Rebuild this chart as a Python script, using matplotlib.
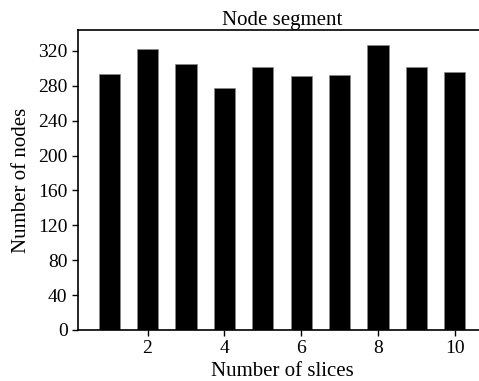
import matplotlib
matplotlib.use("Agg")
import matplotlib.pyplot as plt

# values
slices = [1, 2, 3, 4, 5, 6, 7, 8, 9, 10]
node_counts = [293, 322, 305, 277, 302, 291, 292, 327, 302, 296]
x_ticks = [2, 4, 6, 8, 10]
y_ticks = [0, 40, 80, 120, 160, 200, 240, 280, 320]

plt.rcParams["font.family"] = ["Liberation Serif", "DejaVu Serif"]

fig = plt.figure(figsize=(4.79, 3.81), dpi=100)
ax = fig.add_axes([78 / 479, 51 / 381, 408 / 479, 300 / 381])

ax.bar(slices, node_counts, width=0.55, color="black", edgecolor="#888888", linewidth=0.5)

ax.set_xlim(0.19, 10.81)
ax.set_ylim(0, 344)
ax.set_xticks(x_ticks)
ax.set_yticks(y_ticks)
ax.tick_params(labelsize=14, length=4, width=1)

ax.set_title("Node segment", fontsize=15, pad=2)
ax.set_xlabel("Number of slices", fontsize=15, labelpad=3)
ax.set_ylabel("Number of nodes", fontsize=15, labelpad=5)

for spine in ax.spines.values():
    spine.set_linewidth(1.2)

fig.savefig("out.png", dpi=100)
